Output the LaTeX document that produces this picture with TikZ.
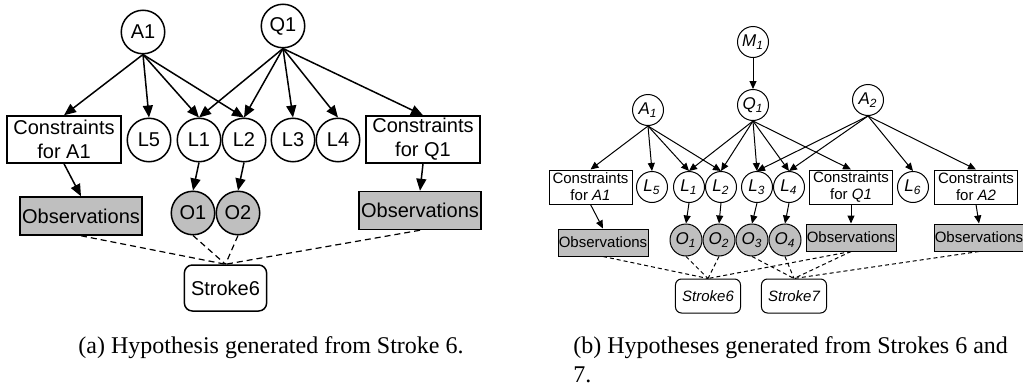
\documentclass[tikz,border=0pt]{standalone}
\usepackage{fontspec}
\setmainfont{Liberation Serif}
\setsansfont{Liberation Sans}
\usetikzlibrary{arrows.meta,positioning}
\tikzset{
    sketchvar/.style={circle, draw, line width=0.75pt, inner sep=0pt, minimum size=21.75pt, font=\sffamily\fontsize{10}{12}\selectfont},
    sketchbox/.style={draw, line width=0.75pt, align=center, inner sep=1pt, minimum width=57pt, minimum height=23.5pt, font=\sffamily\fontsize{10}{12}\selectfont},
    sketchobs/.style={draw, fill=gray!50, line width=0.75pt, inner sep=0pt, minimum width=61pt, minimum height=19pt, font=\sffamily\fontsize{10}{12}\selectfont},
    sketchstroke/.style={draw, rounded corners=4pt, line width=0.75pt, minimum width=39.5pt, minimum height=23pt, font=\sffamily\fontsize{10}{12}\selectfont},
    sketcharrow/.style={-{Triangle[length=6pt,width=5pt]}, line width=0.75pt},
    sketchlink/.style={dash pattern=on 3pt off 2pt, line width=0.6pt},
    sketchcaption/.style={inner sep=0pt, font=\rmfamily\fontsize{12}{14.5}\selectfont}
}
\begin{document}
\begin{tikzpicture}[x=25pt, y=25pt,
        smallvar/.style={sketchvar, line width=0.5pt, minimum size=15.5pt, font=\sffamily\itshape\fontsize{8.5}{10}\selectfont},
        smallbox/.style={sketchbox, line width=0.5pt, minimum width=41.5pt, minimum height=17pt, inner sep=0.5pt, font=\sffamily\fontsize{7.5}{8.5}\selectfont},
        smallobs/.style={sketchobs, line width=0.5pt, minimum width=45pt, minimum height=13.5pt, font=\sffamily\fontsize{7.5}{9}\selectfont},
        smallstroke/.style={sketchstroke, line width=0.5pt, rounded corners=3pt, minimum width=29pt, minimum height=17pt, font=\sffamily\itshape\fontsize{7.5}{9}\selectfont},
        smallarrow/.style={-{Triangle[length=4pt,width=3.5pt]}, line width=0.5pt},
        smalllink/.style={dash pattern=on 2pt off 1.5pt, line width=0.5pt}
    ]
        \useasboundingbox (0,0) rectangle (20.46,7.74);

        % (a) one stroke
        \node[sketchvar] (a1) at (2.86,7.10) {A1};
        \node[sketchvar] (q1) at (5.66,7.22) {Q1};
        \node[sketchbox] (ca1) at (1.28,4.95) {Constraints\\for A1};
        \node[sketchvar] (l5) at (2.98,4.94) {L5};
        \node[sketchvar] (l1) at (3.98,4.94) {L1};
        \node[sketchvar, right=0pt of l1] (l2) {L2};
        \node[sketchvar] (l3) at (5.86,4.94) {L3};
        \node[sketchvar, right=0pt of l3] (l4) {L4};
        \node[sketchbox] (cq1) at (8.46,4.95) {Constraints\\for Q1};
        \node[sketchobs] (obsa1) at (1.62,3.42) {Observations};
        \node[sketchvar, fill=gray!50] (o1) at (3.86,3.48) {O1};
        \node[sketchvar, fill=gray!50, right=0pt of o1] (o2) {O2};
        \node[sketchobs] (obsq1) at (8.40,3.53) {Observations};
        \node[sketchstroke] (s6) at (4.51,1.98) {Stroke6};

        \draw[sketcharrow] (a1.south) -- (ca1.north);
        \draw[sketcharrow] (a1.south) -- (l5.north);
        \draw[sketcharrow] (a1.south) -- (l1.north);
        \draw[sketcharrow] (a1.south) -- (l2.north);
        \draw[sketcharrow] (q1.south) -- (l1.north);
        \draw[sketcharrow] (q1.south) -- (l2.north);
        \draw[sketcharrow] (q1.south) -- (l3.north);
        \draw[sketcharrow] (q1.south) -- (l4.north);
        \draw[sketcharrow] (q1.south) -- (cq1.north);
        \draw[sketcharrow] (ca1.south) -- (obsa1.north);
        \draw[sketcharrow] (cq1.south) -- (obsq1.north);
        \draw[sketcharrow] (l1.south) -- (o1.north);
        \draw[sketcharrow] (l2.south) -- (o2.north);
        \draw[sketchlink] (obsa1.south) -- (s6.north);
        \draw[sketchlink] (o1.south) -- (s6.north);
        \draw[sketchlink] (o2.south) -- (s6.north);
        \draw[sketchlink] (obsq1.south) -- (s6.north);

        \node[sketchcaption, anchor=base] (capa) at (5.42,0.68) {(a) Hypothesis generated from Stroke 6.};

        % (b) two strokes
        \node[smallvar] (m1b) at (15.06,6.90) {M\textsubscript{1}};
        \node[smallvar] (q1b) at (15.06,5.64) {Q\textsubscript{1}};
        \node[smallvar] (a1b) at (12.96,5.54) {A\textsubscript{1}};
        \node[smallvar] (a2b) at (17.36,5.74) {A\textsubscript{2}};
        \node[smallbox] (ca1b) at (11.81,4.00) {Constraints\\for \textit{A1}};
        \node[smallvar] (l5b) at (13.04,4.00) {L\textsubscript{5}};
        \node[smallvar] (l1b) at (13.78,4.00) {L\textsubscript{1}};
        \node[smallvar, right=0pt of l1b] (l2b) {L\textsubscript{2}};
        \node[smallvar] (l3b) at (15.14,4.00) {L\textsubscript{3}};
        \node[smallvar, right=0pt of l3b] (l4b) {L\textsubscript{4}};
        \node[smallbox] (cq1b) at (17.02,4.00) {Constraints\\for \textit{Q1}};
        \node[smallvar] (l6b) at (18.26,4.00) {L\textsubscript{6}};
        \node[smallbox] (ca2b) at (19.52,4.00) {Constraints\\for \textit{A2}};
        \node[smallobs] (obsa1b) at (12.06,2.89) {Observations};
        \node[smallvar, fill=gray!50, minimum size=16pt] (o1b) at (13.72,2.94) {O\textsubscript{1}};
        \node[smallvar, fill=gray!50, minimum size=16pt, right=0pt of o1b] (o2b) {O\textsubscript{2}};
        \node[smallvar, fill=gray!50, minimum size=16pt, right=0pt of o2b] (o3b) {O\textsubscript{3}};
        \node[smallvar, fill=gray!50, minimum size=16pt, right=0pt of o3b] (o4b) {O\textsubscript{4}};
        \node[smallobs] (obsq1b) at (17.02,2.99) {Observations};
        \node[smallobs] (obsa2b) at (19.58,2.99) {Observations};
        \node[smallstroke] (s6b) at (14.16,1.82) {Stroke6};
        \node[smallstroke] (s7b) at (15.88,1.82) {Stroke7};

        \draw[smallarrow] (m1b.south) -- (q1b.north);
        \draw[smallarrow] (a1b.south) -- (ca1b.north);
        \draw[smallarrow] (a1b.south) -- (l5b.north);
        \draw[smallarrow] (a1b.south) -- (l1b.north);
        \draw[smallarrow] (a1b.south) -- (l2b.north);
        \draw[smallarrow] (q1b.south) -- (l1b.north);
        \draw[smallarrow] (q1b.south) -- (l2b.north);
        \draw[smallarrow] (q1b.south) -- (l3b.north);
        \draw[smallarrow] (q1b.south) -- (l4b.north);
        \draw[smallarrow] (q1b.south) -- (cq1b.north);
        \draw[smallarrow] (a2b.south) -- (l3b.north);
        \draw[smallarrow] (a2b.south) -- (l4b.north);
        \draw[smallarrow] (a2b.south) -- (l6b.north);
        \draw[smallarrow] (a2b.south) -- (ca2b.north);
        \draw[smallarrow] (ca1b.south) -- (obsa1b.north);
        \draw[smallarrow] (cq1b.south) -- (obsq1b.north);
        \draw[smallarrow] (ca2b.south) -- (obsa2b.north);
        \draw[smallarrow] (l1b.south) -- (o1b.north);
        \draw[smallarrow] (l2b.south) -- (o2b.north);
        \draw[smallarrow] (l3b.south) -- (o3b.north);
        \draw[smallarrow] (l4b.south) -- (o4b.north);
        \draw[smalllink] (obsa1b.south) -- (s6b.north);
        \draw[smalllink] (o1b.south) -- (s6b.north);
        \draw[smalllink] (o2b.south) -- (s6b.north);
        \draw[smalllink] (obsq1b.south) -- (s6b.north);
        \draw[smalllink] (o3b.south) -- (s7b.north);
        \draw[smalllink] (o4b.south) -- (s7b.north);
        \draw[smalllink] (obsq1b.south) -- (s7b.north);
        \draw[smalllink] (obsa2b.south) -- (s7b.north);

        \node[sketchcaption, anchor=north west, align=left] (capb) at (11.46,1.01) {(b) Hypotheses generated from Strokes 6 and\\7.};
    \end{tikzpicture}
\end{document}
